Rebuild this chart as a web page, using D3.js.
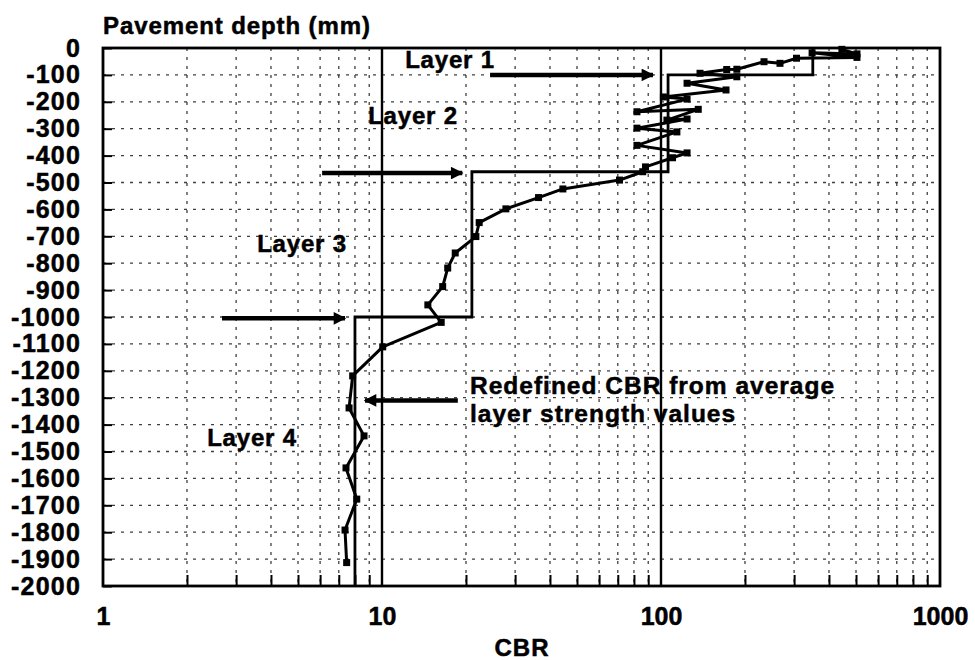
<!DOCTYPE html>
<html>
<head>
<meta charset="utf-8">
<script src="https://cdn.jsdelivr.net/npm/d3@7"></script>
<style>
  html, body { margin: 0; padding: 0; background: #fff; }
  svg { display: block; }
  text { font-family: "Liberation Sans", Arial, sans-serif; font-weight: bold; fill: #000; stroke: #000; stroke-width: 0.5px; }
</style>
</head>
<body>
<script>
// ---- Data ----
// Measured CBR profile (CBR value, depth in mm)
const measuredCBR   = [445, 504, 348, 504, 306, 267, 234, 187, 172, 138, 187, 124, 171, 102, 124, 82, 136, 105, 124, 82, 114, 82, 124, 110, 88, 86, 71, 44.5, 36.4, 27.8, 22.3, 21.7, 18.3, 17.2, 16.5, 14.6, 16.3, 10.06, 7.85, 7.62, 8.62, 7.43, 8.12, 7.37, 7.47];
const measuredDepth = [-5, -22, -18, -35, -38, -57, -51, -79, -80, -94, -107, -131, -156, -182, -190, -237, -228, -268, -264, -298, -312, -362, -390, -408, -442, -460, -491, -524, -556, -598, -649, -701, -762, -818, -887, -955, -1020, -1111, -1219, -1338, -1442, -1561, -1677, -1792, -1913];

// Redefined layer CBR values (average layer strength)
const layerNames  = ["Layer 1", "Layer 2", "Layer 3", "Layer 4"];
const layerCBR    = [350, 106, 21, 8];
const layerTop    = [0, -100, -460, -1000];
const layerBottom = [-100, -460, -1000, -2000];

// Axis ticks
const xTickValues = [1, 10, 100, 1000];
const yTickValues = d3.range(0, -2001, -100);

// Annotation arrows: [fromCBR, toCBR, depth]
const arrowFrom  = [24.4, 6.1, 2.67, 18.7];
const arrowTo    = [93.6, 19.4, 7.37, 8.69];
const arrowDepth = [-100, -465, -1005, -1310];

// ---- Layout ----
const W = 975, H = 660;
const svg = d3.select("body").append("svg").attr("width", W).attr("height", H);

const x = d3.scaleLog().domain([1, 1000]).range([103, 940]);
const y = d3.scaleLinear().domain([0, -2000]).range([48, 586]);

const defs = svg.append("defs");
defs.append("marker").attr("id", "ah").attr("viewBox", "0 0 10 10")
  .attr("refX", 9).attr("refY", 5).attr("markerWidth", 3.6).attr("markerHeight", 2.8)
  .attr("orient", "auto-start-reverse")
  .append("path").attr("d", "M0,0 L10,5 L0,10 Z").attr("fill", "#000");

// minor grid values
const minorX = [];
[1, 10, 100].forEach(b => { for (let k = 2; k <= 9; k++) minorX.push(b * k); });

const grid = svg.append("g");
grid.selectAll("line.vg").data(minorX).join("line")
  .attr("x1", d => x(d)).attr("x2", d => x(d))
  .attr("y1", y(0)).attr("y2", y(-2000))
  .attr("stroke", "#111").attr("stroke-width", 1.3)
  .attr("stroke-dasharray", "3,6").attr("opacity", 0.8);
grid.selectAll("line.hg").data(yTickValues.filter(d => d < 0 && d > -2000)).join("line")
  .attr("x1", x(1)).attr("x2", x(1000))
  .attr("y1", d => y(d)).attr("y2", d => y(d))
  .attr("stroke", "#111").attr("stroke-width", 1.3)
  .attr("stroke-dasharray", "3,6").attr("opacity", 0.8);

// major vertical lines at 10 and 100
svg.selectAll("line.major").data([10, 100]).join("line")
  .attr("x1", d => x(d)).attr("x2", d => x(d))
  .attr("y1", y(0)).attr("y2", y(-2000))
  .attr("stroke", "#000").attr("stroke-width", 2.4);

// Axes
const xAxis = d3.axisBottom(x).tickValues(minorX).tickSize(-11).tickFormat("");
svg.append("g").attr("transform", `translate(0,${y(-2000)})`).call(xAxis)
  .call(g => g.select(".domain").remove())
  .call(g => g.selectAll("line").attr("stroke-width", 2));

const xLab = d3.axisBottom(x).tickValues(xTickValues).tickSize(0).tickFormat(d3.format("d"));
svg.append("g").attr("transform", `translate(0,${y(-2000)})`).call(xLab)
  .call(g => g.select(".domain").remove())
  .call(g => g.selectAll("text").attr("font-size", 25).attr("dy", "1.45em")
    .style("font-family", "'Liberation Sans', Arial, sans-serif").style("font-weight", "bold")
    .style("stroke", "#000").style("stroke-width", "0.5px"));

const yAxis = d3.axisLeft(y).tickValues(yTickValues).tickSize(-9).tickPadding(22)
  .tickFormat(d => d === 0 ? "0" : "-" + Math.abs(d));
svg.append("g").attr("transform", `translate(${x(1)},0)`).call(yAxis)
  .call(g => g.select(".domain").remove())
  .call(g => g.selectAll("line").attr("stroke-width", 2))
  .call(g => g.selectAll("text").attr("font-size", 25).attr("letter-spacing", 1.2)
    .style("font-family", "'Liberation Sans', Arial, sans-serif").style("font-weight", "bold")
    .style("stroke", "#000").style("stroke-width", "0.5px"));

// Frame
svg.append("rect").attr("x", x(1)).attr("y", y(0))
  .attr("width", x(1000) - x(1)).attr("height", y(-2000) - y(0))
  .attr("fill", "none").attr("stroke", "#000").attr("stroke-width", 2.8);

// Redefined layer CBR step line
const stepPts = [];
layerCBR.forEach((c, i) => {
  stepPts.push([c, layerTop[i]]);
  stepPts.push([c, layerBottom[i]]);
});
svg.append("path").datum(stepPts)
  .attr("d", d3.line().x(d => x(d[0])).y(d => y(d[1])))
  .attr("fill", "none").attr("stroke", "#000").attr("stroke-width", 2.8);

// Measured profile
const meas = measuredCBR.map((c, i) => [c, measuredDepth[i]]);
svg.append("path").datum(meas)
  .attr("d", d3.line().x(d => x(d[0])).y(d => y(d[1])))
  .attr("fill", "none").attr("stroke", "#000").attr("stroke-width", 3)
  .attr("stroke-linejoin", "round");
svg.selectAll("rect.pt").data(meas).join("rect")
  .attr("x", d => x(d[0]) - 3.5).attr("y", d => y(d[1]) - 3.5)
  .attr("width", 7).attr("height", 7).attr("fill", "#000");

// Arrows
svg.selectAll("line.arrow").data(arrowFrom).join("line")
  .attr("x1", (d, i) => x(d)).attr("x2", (d, i) => x(arrowTo[i]))
  .attr("y1", (d, i) => y(arrowDepth[i])).attr("y2", (d, i) => y(arrowDepth[i]))
  .attr("stroke", "#000").attr("stroke-width", 4.5)
  .attr("marker-end", "url(#ah)");

// Labels
const labelX = [450, 413, 302, 252];
const labelY = [68, 124, 252, 446];
svg.selectAll("text.layer").data(layerNames).join("text")
  .attr("x", (d, i) => labelX[i]).attr("y", (d, i) => labelY[i])
  .attr("text-anchor", "middle").attr("font-size", 24).attr("letter-spacing", 0.8)
  .text(d => d);

svg.append("text").attr("x", 470).attr("y", 394).attr("font-size", 24.5).attr("letter-spacing", 1)
  .text("Redefined CBR from average");
svg.append("text").attr("x", 470).attr("y", 422).attr("font-size", 24.5).attr("letter-spacing", 1)
  .text("layer strength values");

svg.append("text").attr("x", 103).attr("y", 34).attr("font-size", 24).attr("letter-spacing", 0.9)
  .text("Pavement depth (mm)");
svg.append("text").attr("x", 522).attr("y", 656).attr("text-anchor", "middle").attr("font-size", 24)
  .attr("letter-spacing", 1).text("CBR");
</script>
</body>
</html>
